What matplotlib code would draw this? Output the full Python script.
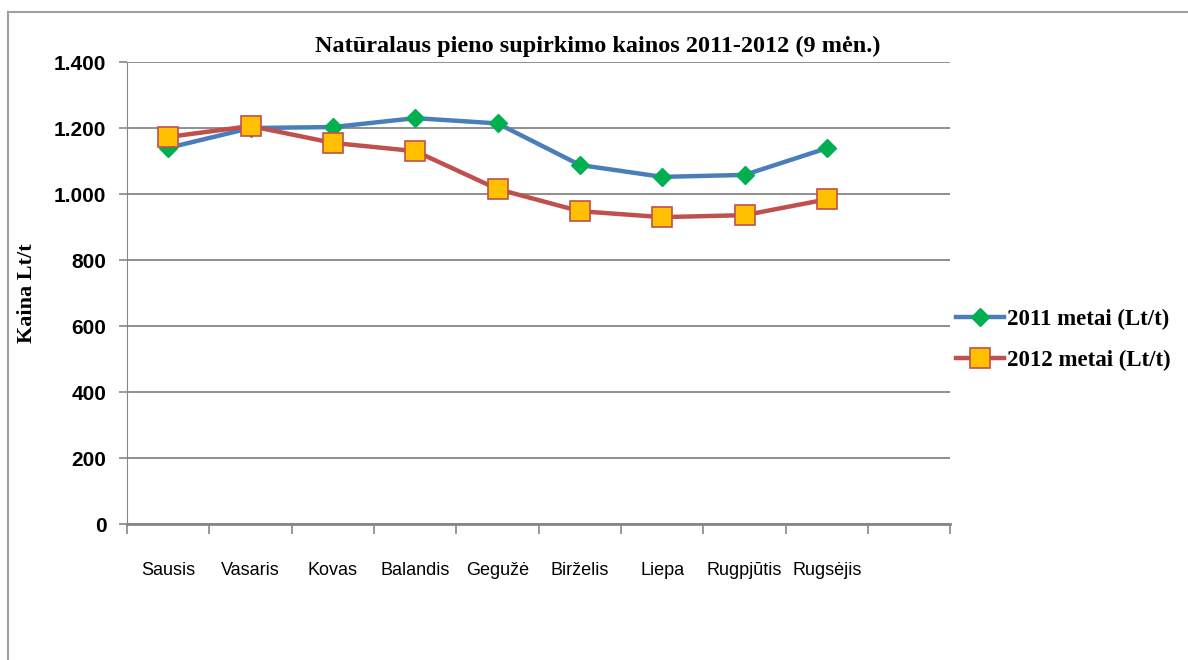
import numpy as np
import matplotlib.pyplot as plt
from matplotlib.lines import Line2D

# data
months = ["Sausis", "Vasaris", "Kovas", "Balandis", "Gegužė", "Birželis",
          "Liepa", "Rugpjūtis", "Rugsėjis"]
prices_2011 = [1140, 1200, 1203, 1230, 1214, 1088, 1052, 1058, 1139]
prices_2012 = [1173, 1206, 1155, 1130, 1015, 948, 930, 936, 984]
y_ticks = [0, 200, 400, 600, 800, 1000, 1200, 1400]
y_tick_labels = ["0", "200", "400", "600", "800", "1.000", "1.200", "1.400"]
n_slots = 10  # one empty category slot at the end

fig = plt.figure(figsize=(11.88, 6.6), dpi=100)
ax = fig.add_axes([0.107, 0.206, 0.693, 0.700])

x = np.arange(len(months))
ax.plot(x, prices_2011, color="#4A7EBB", lw=3.2, marker="D", ms=9,
        mfc="#00B050", mec="#00B050", label="2011 metai (Lt/t)", zorder=3)
ax.plot(x, prices_2012, color="#C0504D", lw=3.2, marker="s", ms=15,
        mfc="#FFC000", mec="#C0504D", mew=1.2, label="2012 metai (Lt/t)", zorder=4)

ax.set_xlim(-0.5, n_slots - 0.5)
ax.set_ylim(0, 1400)
ax.set_yticks(y_ticks)
ax.set_yticklabels(y_tick_labels, fontfamily="Liberation Sans",
                   fontweight="bold", fontsize=15)
ax.yaxis.grid(True, color="#868686", lw=1.3)
ax.set_axisbelow(True)
ax.tick_params(axis="y", length=6, color="#868686", width=1.2, pad=9)

ax.set_xticks(x)
ax.set_xticklabels(months, fontfamily="Liberation Sans", fontsize=13)
ax.set_xticks(np.arange(n_slots + 1) - 0.5, minor=True)
ax.tick_params(axis="x", which="major", length=0, pad=27)
ax.tick_params(axis="x", which="minor", length=7, color="#868686", width=1.2)

for s in ["top", "right"]:
    ax.spines[s].set_visible(False)
ax.spines["left"].set_color("#868686")
ax.spines["bottom"].set_color("#868686")
ax.spines["bottom"].set_linewidth(2)

ax.set_ylabel("Kaina Lt/t", fontfamily="Liberation Serif", fontweight="bold",
              fontsize=16, labelpad=12)

fig.text(0.503, 0.93, "Natūralaus pieno supirkimo kainos 2011-2012 (9 mėn.)",
         ha="center", va="center", fontfamily="Liberation Serif",
         fontweight="bold", fontsize=17.5)

fig.legend(loc="center left", bbox_to_anchor=(0.787, 0.485), frameon=False,
           prop={"family": "Liberation Serif", "weight": "bold", "size": 16.5},
           handlelength=2.1, labelspacing=0.85, handletextpad=0.15)

# outer chart border (partially visible)
fig.add_artist(Line2D([8 / 1188, 1], [1 - 12 / 660, 1 - 12 / 660],
                      color="#A0A0A0", lw=1.5, transform=fig.transFigure))
fig.add_artist(Line2D([8 / 1188, 8 / 1188], [0, 1 - 12 / 660],
                      color="#A0A0A0", lw=1.5, transform=fig.transFigure))

fig.savefig("out.png", dpi=100)
